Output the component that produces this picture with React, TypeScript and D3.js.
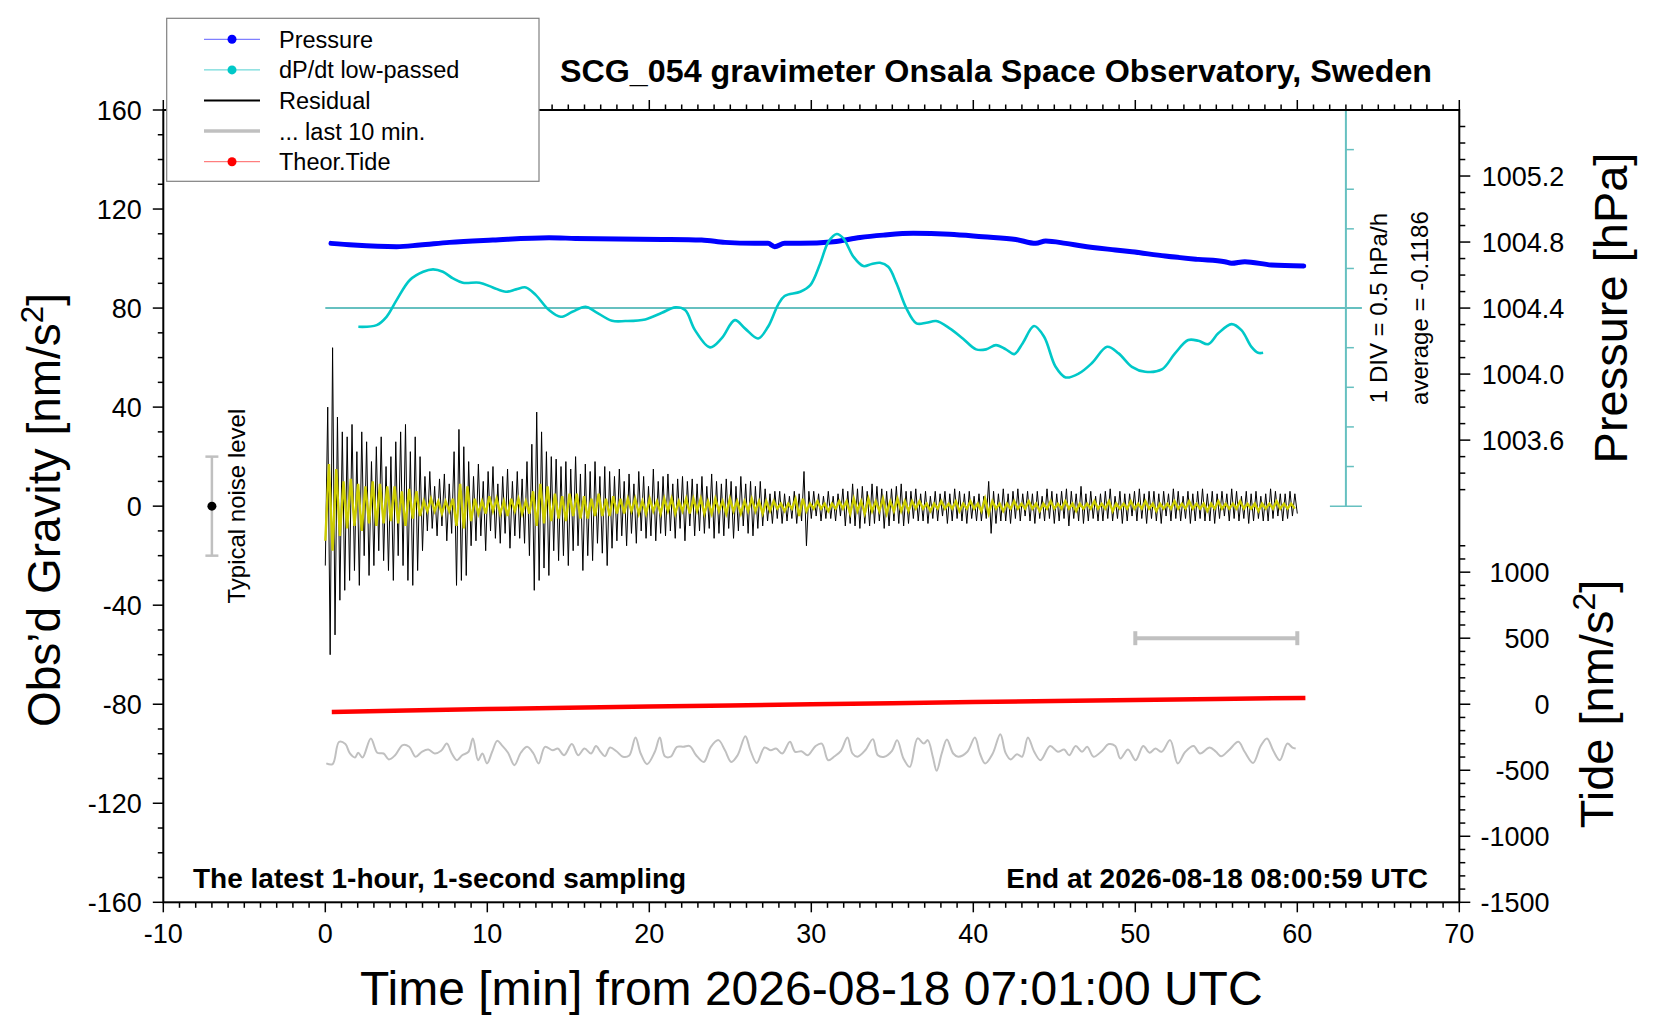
import React, { useEffect, useRef } from "react";
import * as d3 from "d3";

// residual, one value every residualStep minutes from t = 0
const residualStep = 0.15;
const residual = [
  -24, 40, -60, 64, -52, 36, -38, 30, -34, 28, -30, 33, -26, 22, -32, 30, -20, 26, -28, 18,
  -24, 24, -18, 28, -22, 16, -26, 20, -30, 26, -20, 30, -24, 33, -30, 22, -32, 28, -26, 20,
  -18, 12, -10, 14, -9, 8, -12, 11, -8, 13, -14, 9, -11, 22, -32, 31, -30, 24, -28, 18,
  -16, 12, -14, 17, -12, 10, -18, 14, -10, 16, -13, 9, -15, 12, -11, 15, -17, 10, -12, 14,
  -13, 11, -15, 18, -20, 25, -34, 38, -30, 30, -25, 22, -28, 20, -18, 19, -22, 16, -20, 18,
  -24, 15, -18, 20, -16, 13, -26, 17, -20, 14, -22, 18, -15, 12, -19, 16, -24, 14, -17, 12,
  -14, 15, -12, 10, -16, 13, -11, 9, -15, 14, -10, 12, -13, 8, -12, 15, -14, 10, -11, 12,
  -12, 13, -10, 9, -13, 11, -9, 12, -14, 10, -8, 11, -12, 9, -10, 12, -11, 8, -9, 13,
  -13, 10, -11, 9, -12, 11, -9, 10, -13, 8, -10, 12, -8, 9, -11, 10, -12, 8, -9, 10,
  -8, 7, -6, 5, -7, 6, -5, 6, -7, 5, -6, 4, -5, 6, -7, 5, -6, 14, -16, 6,
  -5, 6, -4, 5, -6, 4, -5, 6, -5, 4, -6, 5, -4, 7, -8, 6, -7, 9, -8, 7,
  -9, 8, -7, 6, -8, 9, -7, 8, -6, 7, -9, 6, -8, 7, -6, 8, -7, 9, -8, 6,
  -7, 6, -5, 7, -6, 5, -6, 6, -7, 4, -5, 6, -6, 5, -4, 6, -7, 5, -6, 7,
  -5, 6, -6, 5, -7, 6, -5, 4, -6, 5, -6, 4, -5, 10, -11, 6, -7, 5, -6, 7,
  -6, 5, -7, 6, -5, 7, -6, 5, -4, 6, -6, 5, -7, 6, -5, 4, -6, 7, -5, 6,
  -7, 5, -6, 6, -5, 7, -8, 6, -5, 5, -6, 8, -7, 5, -6, 6, -5, 4, -6, 5,
  -6, 6, -5, 7, -6, 4, -5, 6, -7, 5, -6, 5, -4, 6, -6, 7, -5, 5, -7, 6,
  -5, 6, -6, 5, -7, 6, -4, 5, -6, 7, -5, 6, -6, 4, -5, 6, -7, 5, -6, 6,
  -5, 7, -6, 5, -6, 6, -7, 5, -5, 6, -4, 5, -6, 7, -5, 6, -6, 4, -5, 6,
  -7, 5, -6, 6, -5, 4, -6, 5, -6, 7, -5, 6, -4, 5, -6, 5, -5, 6, -4, 5,
  -3,
];

// filtered residual (yellow), one value every filteredStep minutes
const filteredStep = 0.225;
const filtered = [
  -14, 17, -18, 15, -12,
  10, -9, 11, -8, 9, -10, 8, -7, 10, -8, 9, -7, 8,
  -6, 8, -7, 6, -8, 7, -5, 6, -4,
  2, -2, 3, -2, 2, -3, 2, -2, 3,
  -8, 9, -9, 8, -6,
  3, -3, 2, -3, 4, -2, 3, -3, 2, -4, 3, -2, 3, -3, 2, -3,
  6, -8, 9, -7, 8, -6,
  5, -5, 4, -6, 5, -4, 5, -5, 4, -5, 3, -4, 5, -4, 3, -4, 4, -3, 3,
  -3, 3, -2, 3, -3, 2, -3, 3, -2, 2, -3, 3, -2, 3, -3, 2, -2, 3, -3,
  3, -2, 3, -3, 2, -3, 3, -2, 2, -3, 3, -2, 2, -3, 2, -2, 3, -2, 2, -3, 2, -2, 2,
  -1, 1, -2, 1, -1,
  3, -4, 3, -2,
  1, -1, 2, -1, 1, -2, 1, -1, 2, -1,
  2, -3, 3, -2, 2, -3, 3, -2, 2, -2, 3, -3, 2, -2, 3, -2, 2, -2, 2, -1,
  2, -1, 1, -2, 1, -1, 2, -1, 1, -1, 2, -2, 1, -1, 2, -1, 1, -2,
  3, -3,
  2, -1, 1, -2, 1, -1, 2, -1, 1, -1, 2, -1, 1, -2, 1, -1, 2, -1,
  1, -1, 2, -1, 1, -2, 1, -1, 1, -1, 2, -1, 1, -1, 2, -2, 1, -1, 1, -1,
  2, -1, 1, -1, 2, -1, 1, -2, 1, -1, 1, -1, 2, -1, 1, -1, 2, -1, 1, -1,
  1, -2, 1, -1, 2, -1, 1, -1, 1, -1, 2, -1, 1, -1, 1, -2, 1, -1, 1, -1,
  2, -1, 1, -1, 1, -1,
];

// last 10 minutes of residual, stretched over the hour: [t, nm/s^2]
const lastTen: [number, number][] = [
  [0.06, -103.9], [0.45, -104.2], [0.85, -95.2], [1.24, -96.1], [1.52, -99.9], [1.83, -101.5],
  [2.03, -99.6], [2.3, -101.5], [2.81, -93.8], [3.21, -99.6], [3.6, -99.9], [3.92, -102.3],
  [4.31, -100.6], [4.78, -96.5], [5.18, -97.2], [5.57, -101.2], [5.96, -99.2], [6.36, -98.3],
  [6.75, -99.9], [7.15, -98.8], [7.5, -95.9], [7.81, -99.9], [8.13, -102.6], [8.45, -100.6],
  [8.84, -99.2], [9.11, -93.8], [9.43, -102.6], [9.7, -99.9], [9.98, -103.9], [10.3, -99.2],
  [10.61, -94.8], [10.89, -96.5], [11.28, -99.6], [11.67, -104.6], [12.07, -99.6], [12.46, -97.2],
  [12.85, -99.9], [13.17, -103.9], [13.56, -97.2], [14.04, -98.6], [14.35, -97.9], [14.74, -100.6],
  [15.22, -96.1], [15.61, -100.6], [16.0, -97.9], [16.4, -99.9], [16.71, -96.9], [16.99, -99.2],
  [17.26, -101.0], [17.58, -97.5], [17.97, -99.0], [18.37, -101.2], [18.76, -100.7], [19.15, -93.4],
  [19.47, -99.9], [19.86, -104.2], [20.34, -99.2], [20.65, -93.4], [20.96, -101.0], [21.32, -101.2],
  [21.71, -97.2], [22.11, -97.2], [22.5, -96.9], [22.89, -100.6], [23.37, -103.3], [23.8, -97.2],
  [24.27, -94.5], [24.67, -98.6], [25.06, -103.3], [25.45, -100.6], [25.93, -92.9], [26.24, -98.6],
  [26.63, -103.7], [27.11, -97.5], [27.5, -98.6], [27.82, -97.9], [28.21, -99.9], [28.68, -95.2],
  [29.0, -99.2], [29.39, -99.0], [29.78, -100.6], [30.26, -96.9], [30.65, -95.9], [31.04, -102.6],
  [31.44, -101.0], [31.83, -98.8], [32.23, -93.4], [32.54, -99.9], [32.85, -101.2], [33.33, -98.6],
  [33.8, -94.1], [34.11, -100.6], [34.51, -101.2], [34.98, -98.8], [35.3, -94.5], [35.69, -101.9],
  [36.08, -105.3], [36.56, -93.8], [36.95, -95.9], [37.19, -94.5], [37.5, -101.2], [37.74, -106.9],
  [38.05, -99.9], [38.37, -94.2], [38.76, -99.9], [39.07, -101.2], [39.63, -99.2], [40.1, -93.4],
  [40.41, -99.9], [40.73, -103.9], [41.2, -99.9], [41.67, -92.1], [41.99, -99.6], [42.3, -102.3],
  [42.7, -100.2], [43.01, -101.2], [43.37, -93.4], [43.76, -99.2], [44.15, -102.6], [44.74, -96.9],
  [45.22, -99.2], [45.61, -98.3], [45.92, -100.6], [46.32, -96.9], [46.71, -99.2], [47.03, -97.2],
  [47.42, -101.2], [47.89, -99.2], [48.37, -96.1], [48.76, -96.9], [49.08, -101.9], [49.55, -98.3],
  [50.02, -102.6], [50.49, -96.9], [50.88, -99.6], [51.24, -97.9], [51.63, -99.2], [52.15, -94.5],
  [52.62, -103.9], [53.09, -99.2], [53.6, -96.9], [54.0, -99.9], [54.59, -97.5], [54.98, -99.2],
  [55.3, -101.0], [55.77, -98.6], [56.36, -95.2], [56.75, -99.2], [57.27, -103.7], [57.74, -96.9],
  [58.13, -93.8], [58.52, -98.8], [58.92, -102.6], [59.39, -95.9], [59.7, -97.5], [59.9, -97.9],
];

// air pressure [hPa]
const pressureTime = [
  0.35, 1.74, 4.4, 5.83, 7.67, 10.34, 13.81, 15.45, 18.12, 20.78, 23.23, 24.67, 26.51, 27.33,
  27.74, 28.35, 29.32, 31.37, 33.01, 34.44, 36.29, 38.54, 40.59, 42.63, 43.86, 44.47, 45.7,
  46.72, 48.77, 49.79, 51.84, 53.89, 55.52, 55.94, 56.76, 58.4, 60.4,
];
const pressureValue = [
  1004.792, 1004.782, 1004.772, 1004.782, 1004.798, 1004.812, 1004.826, 1004.822, 1004.818,
  1004.816, 1004.812, 1004.798, 1004.792, 1004.792, 1004.772, 1004.792, 1004.792, 1004.802,
  1004.828, 1004.842, 1004.853, 1004.847, 1004.832, 1004.816, 1004.792, 1004.806, 1004.792,
  1004.776, 1004.752, 1004.741, 1004.715, 1004.695, 1004.681, 1004.671, 1004.681, 1004.661,
  1004.655,
];

// dP/dt low-passed [hPa/h]
const dpdtTime = [
  2.04, 3.17, 3.78, 4.4, 5.22, 6.04, 6.65, 7.26, 7.88, 8.49, 9.52, 10.34, 11.15, 11.77, 12.38,
  13.0, 13.81, 14.53, 15.25, 16.07, 16.68, 17.7, 18.52, 19.75, 20.78, 21.6, 22.21, 22.82, 23.75,
  24.46, 25.28, 25.9, 26.72, 27.33, 27.94, 28.35, 29.32, 29.94, 30.55, 31.06, 31.57, 31.98,
  32.6, 33.21, 33.73, 34.24, 34.75, 35.26, 35.87, 36.49, 37.1, 37.71, 38.54, 39.35, 40.17,
  40.79, 41.4, 42.01, 42.53, 43.04, 43.75, 44.37, 45.08, 45.7, 46.52, 47.34, 48.26, 48.97,
  49.79, 50.61, 51.64, 52.45, 53.27, 53.89, 54.5, 55.12, 55.94, 56.55, 57.17, 57.58, 57.89,
];
const dpdtValue = [
  -0.236, -0.215, -0.11, 0.1, 0.354, 0.458, 0.489, 0.458, 0.375, 0.32, 0.32, 0.261, 0.206,
  0.236, 0.261, 0.164, -0.025, -0.11, -0.047, 0.016, -0.047, -0.16, -0.164, -0.143, -0.059,
  0.009, -0.025, -0.278, -0.496, -0.383, -0.152, -0.256, -0.383, -0.236, 0.038, 0.152, 0.206,
  0.29, 0.564, 0.837, 0.934, 0.88, 0.648, 0.53, 0.556, 0.572, 0.521, 0.312, -0.004, -0.193,
  -0.186, -0.164, -0.256, -0.383, -0.521, -0.521, -0.467, -0.521, -0.581, -0.446, -0.227,
  -0.362, -0.741, -0.875, -0.825, -0.691, -0.489, -0.572, -0.741, -0.804, -0.774, -0.572,
  -0.404, -0.413, -0.455, -0.319, -0.202, -0.278, -0.489, -0.564, -0.564,
];

// theoretical tide [nm/s^2]
const tideTime = [0.4, 5, 10, 15, 20, 25, 30, 35, 40, 45, 50, 55, 60.5];
const tideValue = [-58, -47, -37, -27, -18, -9, 0, 8, 16, 24, 32, 40, 48];

const gravityLabels = [-160, -120, -80, -40, 0, 40, 80, 120, 160];
const timeLabels = [-10, 0, 10, 20, 30, 40, 50, 60, 70];
const pressureLabels = [1003.6, 1004.0, 1004.4, 1004.8, 1005.2];
const tideLabels = [-1500, -1000, -500, 0, 500, 1000];
const legendLabels = ["Pressure", "dP/dt low-passed", "Residual", "... last 10 min.", "Theor.Tide"];

const App: React.FC = () => {
  const chartRef = useRef<SVGSVGElement>(null);

  useEffect(() => {
    const width = 1660;
    const height = 1020;
    const frame = { left: 163.3, right: 1459.3, top: 110, bottom: 902.3 };
    const font = "'Liberation Sans', Arial, Helvetica, sans-serif";

    // scales
    const x = d3.scaleLinear().domain([-10, 70]).range([frame.left, frame.right]);
    const y = d3.scaleLinear().domain([-160, 160]).range([frame.bottom, frame.top]);
    const yP = d3.scaleLinear().domain([1000.8, 1005.6]).range([frame.bottom, frame.top]);
    const yT = d3.scaleLinear().domain([-1500, 4500]).range([frame.bottom, frame.top]);
    const yD = d3.scaleLinear().domain([-2.5, 2.5]).range([y(0), y(160)]);

    const svg = d3.select(chartRef.current);
    svg.selectAll("*").remove();
    svg.attr("width", width).attr("height", height).style("font-family", font);
    svg.append("rect").attr("width", width).attr("height", height).attr("fill", "#fff");

    const tick = (x1: number, y1: number, x2: number, y2: number, color = "#000", w = 1.5) =>
      svg.append("line").attr("x1", x1).attr("y1", y1).attr("x2", x2).attr("y2", y2)
        .attr("stroke", color).attr("stroke-width", w);

    // left axis ticks
    d3.range(-160, 161, 10).forEach((v) => {
      tick(frame.left - (v % 40 === 0 ? 10.5 : 5.5), y(v), frame.left, y(v));
    });
    svg.append("g").selectAll("text").data(gravityLabels).enter().append("text")
      .attr("x", 141.7).attr("y", (d) => y(d)).attr("dy", "0.36em")
      .attr("text-anchor", "end").style("font-size", "27px").text((d) => d);

    // bottom and top ticks
    d3.range(-10, 71, 1).forEach((v) => {
      const len = v % 10 === 0 ? 10 : 5.5;
      tick(x(v), frame.bottom, x(v), frame.bottom + len);
      tick(x(v), frame.top - len, x(v), frame.top);
    });
    svg.append("g").selectAll("text").data(timeLabels).enter().append("text")
      .attr("x", (d) => x(d)).attr("y", 943).attr("text-anchor", "middle")
      .style("font-size", "27px").text((d) => d);

    // right axis: pressure (upper) and tide (lower)
    d3.range(10033, 10056).forEach((k) => {
      const v = k / 10;
      tick(frame.right, yP(v), frame.right + (k % 4 === 0 ? 11 : 6), yP(v));
    });
    svg.append("g").selectAll("text").data(pressureLabels).enter().append("text")
      .attr("x", 1481.7).attr("y", (d) => yP(d)).attr("dy", "0.36em")
      .style("font-size", "27px").text((d) => d.toFixed(1));
    d3.range(-1500, 1201, 100).forEach((v) => {
      tick(frame.right, yT(v), frame.right + (v % 500 === 0 ? 11 : 6), yT(v));
    });
    svg.append("g").selectAll("text").data(tideLabels).enter().append("text")
      .attr("x", 1549.5).attr("y", (d) => yT(d)).attr("dy", "0.36em")
      .attr("text-anchor", "end").style("font-size", "27px").text((d) => d);

    // dP/dt axis and zero line
    const teal = "#66c0c0";
    const xD = x(63);
    svg.append("line").attr("x1", x(0)).attr("x2", xD + 16).attr("y1", yD(0)).attr("y2", yD(0))
      .attr("stroke", teal).attr("stroke-width", 2);
    svg.append("line").attr("x1", xD).attr("x2", xD).attr("y1", yD(-2.5)).attr("y2", yD(2.5))
      .attr("stroke", teal).attr("stroke-width", 2);
    d3.range(-5, 6).forEach((k) => {
      const v = k * 0.5;
      const full = k === -5 || k === 5;
      tick(full ? xD - 16 : xD, yD(v), xD + (full ? 16 : 8), yD(v), teal, 1.5);
    });

    // pressure
    const pressureLine = d3.line<number>()
      .x((_, i) => x(pressureTime[i]))
      .y((d) => yP(d))
      .curve(d3.curveMonotoneX);
    svg.append("path").datum(pressureValue).attr("fill", "none").attr("stroke", "#0000ff")
      .attr("stroke-width", 5).attr("stroke-linecap", "round").attr("d", pressureLine);

    // dP/dt curve
    const dpdtLine = d3.line<number>()
      .x((_, i) => x(dpdtTime[i]))
      .y((d) => yD(d))
      .curve(d3.curveCatmullRom.alpha(0.5));
    svg.append("path").datum(dpdtValue).attr("fill", "none").attr("stroke", "#00c8c8")
      .attr("stroke-width", 2.6).attr("d", dpdtLine);

    // residual and filtered
    const residualLine = d3.line<number>()
      .x((_, i) => x(i * residualStep))
      .y((d) => y(d));
    svg.append("path").datum(residual).attr("fill", "none").attr("stroke", "#000")
      .attr("stroke-width", 1).attr("d", residualLine);
    const filteredLine = d3.line<number>()
      .x((_, i) => x(i * filteredStep))
      .y((d) => y(d));
    svg.append("path").datum(filtered).attr("fill", "none").attr("stroke", "#cccc00")
      .attr("stroke-width", 2.4).attr("d", filteredLine);

    // theoretical tide
    const tideLine = d3.line<number>()
      .x((_, i) => x(tideTime[i]))
      .y((d) => yT(d));
    svg.append("path").datum(tideValue).attr("fill", "none").attr("stroke", "#ff0000")
      .attr("stroke-width", 4.5).attr("d", tideLine);

    // last 10 minutes stretched
    const lastLine = d3.line<[number, number]>()
      .x((d) => x(d[0]))
      .y((d) => y(d[1]))
      .curve(d3.curveCatmullRom.alpha(0.5));
    svg.append("path").datum(lastTen).attr("fill", "none").attr("stroke", "#c0c0c0")
      .attr("stroke-width", 2).attr("d", lastLine);

    // bar marking the last 10 minutes
    const gray = "#c0c0c0";
    const barY = yT(500);
    svg.append("line").attr("x1", x(50)).attr("x2", x(60)).attr("y1", barY).attr("y2", barY)
      .attr("stroke", gray).attr("stroke-width", 4);
    [50, 60].forEach((t) => tick(x(t), barY - 7, x(t), barY + 7, gray, 4));

    // typical noise level
    const nx = x(-7);
    svg.append("line").attr("x1", nx).attr("x2", nx).attr("y1", y(20)).attr("y2", y(-20))
      .attr("stroke", gray).attr("stroke-width", 2.5);
    [20, -20].forEach((v) => tick(nx - 6.5, y(v), nx + 6.5, y(v), gray, 2.5));
    svg.append("circle").attr("cx", nx).attr("cy", y(0)).attr("r", 4.5).attr("fill", "#000");
    svg.append("text").attr("transform", `translate(245,${y(0)}) rotate(-90)`)
      .attr("text-anchor", "middle").style("font-size", "24px").text("Typical noise level");

    // dP/dt annotations
    svg.append("text").attr("transform", `translate(1386.5,${yD(0)}) rotate(-90)`)
      .attr("text-anchor", "middle").style("font-size", "24px").text("1 DIV = 0.5 hPa/h");
    svg.append("text").attr("transform", `translate(1427.5,${yD(0)}) rotate(-90)`)
      .attr("text-anchor", "middle").style("font-size", "24px").text("average = -0.1186");

    // frame
    svg.append("rect").attr("x", frame.left).attr("y", frame.top)
      .attr("width", frame.right - frame.left).attr("height", frame.bottom - frame.top)
      .attr("fill", "none").attr("stroke", "#000").attr("stroke-width", 2);

    // inner texts
    svg.append("text").attr("x", 193).attr("y", 888).style("font-size", "28px")
      .style("font-weight", "bold").text("The latest 1-hour, 1-second sampling");
    svg.append("text").attr("x", 1428).attr("y", 887.5).attr("text-anchor", "end")
      .style("font-size", "28px").style("font-weight", "bold")
      .text("End at 2026-08-18 08:00:59 UTC");

    // title
    svg.append("text").attr("x", 996).attr("y", 81.5).attr("text-anchor", "middle")
      .attr("textLength", 872).attr("lengthAdjust", "spacingAndGlyphs")
      .style("font-size", "31px").style("font-weight", "bold")
      .text("SCG_054 gravimeter Onsala Space Observatory, Sweden");

    // axis titles
    svg.append("text").attr("x", (frame.left + frame.right) / 2).attr("y", 1005)
      .attr("text-anchor", "middle").style("font-size", "48px")
      .text("Time [min] from 2026-08-18 07:01:00 UTC");

    const unitTitle = (tx: number, ty: number, label: string, size: number) => {
      const t = svg.append("text").attr("transform", `translate(${tx},${ty}) rotate(-90)`)
        .attr("text-anchor", "middle").style("font-size", `${size}px`);
      t.append("tspan").text(label);
      t.append("tspan").attr("dy", -size * 0.38).style("font-size", `${size * 0.68}px`).text("2");
      t.append("tspan").attr("dy", size * 0.38).text("]");
    };
    unitTitle(60, 510, "Obs\u2019d Gravity [nm/s", 46);
    unitTitle(1613, 704, "Tide [nm/s", 47);
    svg.append("text").attr("transform", `translate(1627,308) rotate(-90)`)
      .attr("text-anchor", "middle").style("font-size", "47px").text("Pressure [hPa]");

    // legend
    const lg = svg.append("g");
    lg.append("rect").attr("x", 166.7).attr("y", 18.3).attr("width", 372.3).attr("height", 163)
      .attr("fill", "#fff").attr("stroke", "#808080").attr("stroke-width", 1.2);
    const rowY = (i: number) => 39.3 + i * 30.6;
    const legendStyle = [
      { line: "#6060ff", w: 1, dot: "#0000ff" },
      { line: "#50d0d0", w: 1, dot: "#00c8c8" },
      { line: "#000000", w: 2.2, dot: "" },
      { line: "#c0c0c0", w: 3.5, dot: "" },
      { line: "#ff6060", w: 1, dot: "#ff0000" },
    ];
    legendLabels.forEach((label, i) => {
      const s = legendStyle[i];
      lg.append("line").attr("x1", 204).attr("x2", 260).attr("y1", rowY(i)).attr("y2", rowY(i))
        .attr("stroke", s.line).attr("stroke-width", s.w);
      if (s.dot) lg.append("circle").attr("cx", 232).attr("cy", rowY(i)).attr("r", 4.5).attr("fill", s.dot);
      lg.append("text").attr("x", 279).attr("y", rowY(i)).attr("dy", "0.36em")
        .style("font-size", "23.5px").text(label);
    });
  }, []);

  return <svg ref={chartRef} style={{ position: "absolute", left: 0, top: 0 }}></svg>;
};

export default App;
